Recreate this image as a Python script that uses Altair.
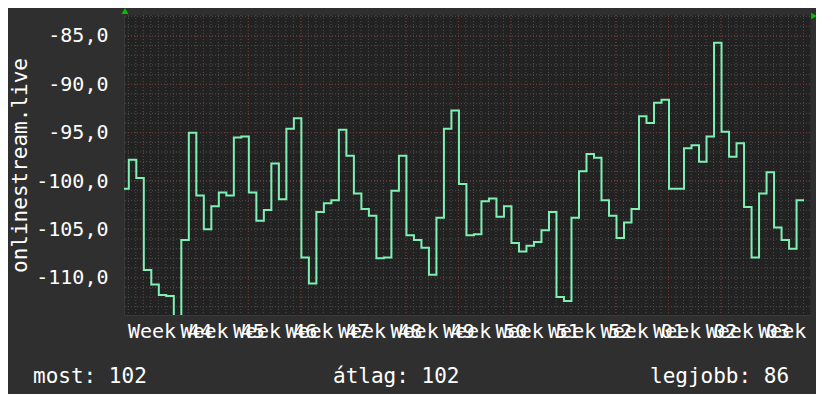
import altair as alt
import pandas as pd

# ---- data ----
# daily values, day index relative to Monday of Week 44 (d = -3 ... 87)
first_day = -3
values = [
    -100.8, -97.8, -99.7,
    -109.2, -110.7, -111.8, -111.9, -114.5, -106.1, -95.0,
    -101.5, -105.0, -102.6, -101.2, -101.5, -95.5, -95.4,
    -101.2, -104.1, -103.0, -98.2, -101.9, -94.6, -93.5,
    -107.9, -110.6, -103.2, -102.3, -102.0, -94.7, -97.4,
    -101.3, -102.9, -103.6, -108.0, -107.9, -101.0, -97.4,
    -105.6, -106.1, -106.9, -109.7, -103.8, -94.6, -92.7,
    -100.3, -105.6, -105.5, -102.1, -101.8, -103.7, -102.6,
    -106.4, -107.3, -106.7, -106.3, -105.1, -103.2, -112.0,
    -112.4, -103.8, -99.0, -97.2, -97.6, -102.0, -103.6,
    -105.9, -104.3, -102.9, -93.3, -94.0, -91.9, -91.6,
    -100.8, -100.8, -96.6, -96.3, -98.0, -95.4, -85.7,
    -94.9, -97.5, -96.1, -102.7, -107.9, -101.3, -99.1,
    -104.8, -106.1, -107.0, -102.0,
]
week_labels = ["44", "45", "46", "47", "48", "49", "50", "51", "52", "01", "02", "03", "04"]
y_tick_values = [-110, -105, -100, -95, -90, -85]
stats_labels = ["most: 102", "átlag: 102", "legjobb: 86"]

# ---- derived tables ----
offset = 0.07
days = [first_day + i + offset for i in range(len(values))]
line_df = pd.DataFrame({"day": days + [days[-1] + 1.0], "value": values + [values[-1]]})

x_domain = [-2.57, 88.86]
y_domain = [-113.86, -82.83]

minor_y = pd.DataFrame({"value": list(range(-113, -82))})
major_y = pd.DataFrame({"value": y_tick_values})
minor_x = pd.DataFrame({"day": list(range(-2, 89))})
major_x = pd.DataFrame({"day": list(range(0, 89, 7))})
week_mids = [3.5 + 7 * k for k in range(len(week_labels))]

FONT = "DejaVu Sans Mono"
xs = alt.Scale(domain=x_domain, nice=False, zero=False)
ys = alt.Scale(domain=y_domain, nice=False, zero=False)

arr = "[" + ",".join("'" + w + "'" for w in week_labels) + "]"
x_label_expr = "'Week ' + " + arr + "[round((datum.value - 3.5) / 7)]"
y_label_expr = "(datum.value < 0 ? '-' : '') + replace(format(abs(datum.value), '.1f'), '.', ',')"

x_axis = alt.Axis(
    values=week_mids, labelExpr=x_label_expr, title=None, grid=False, ticks=False,
    domain=True, domainColor="#3a3a3a", labelOverlap=False, labelBound=False, labelFlush=False,
    labelFont=FONT, labelFontSize=20, labelColor="#ffffff", labelPadding=6,
    labelBaseline="top", labelAlign="center")
y_axis = alt.Axis(
    values=y_tick_values, labelExpr=y_label_expr, grid=False, ticks=False,
    domain=True, domainColor="#3a3a3a", labelFont=FONT, labelFontSize=20,
    labelColor="#ffffff", labelPadding=16, labelBaseline="middle",
    title="onlinestream.live", titleFont=FONT, titleFontSize=21, titleFontWeight="normal",
    titleColor="#ffffff", titleAngle=270, titleX=-98, titleY=150,
    titleAlign="center", titleBaseline="alphabetic")

X = alt.X("day:Q", scale=xs, axis=x_axis)
Y = alt.Y("value:Q", scale=ys, axis=y_axis)

grid_minor_h = alt.Chart(minor_y).mark_rule(color="#4e4e4e", strokeWidth=1, strokeDash=[1, 2]).encode(y=Y)
grid_minor_v = alt.Chart(minor_x).mark_rule(color="#4e4e4e", strokeWidth=1, strokeDash=[1, 2]).encode(x=X)
grid_major_h = alt.Chart(major_y).mark_rule(color="#7a3434", strokeWidth=1, strokeDash=[1, 2]).encode(y=Y)
grid_major_v = alt.Chart(major_x).mark_rule(color="#7a3434", strokeWidth=1, strokeDash=[1, 2]).encode(x=X)

line = alt.Chart(line_df).mark_line(
    interpolate="step-after", color="#7ff0b4", strokeWidth=2, clip=True
).encode(x=X, y=Y)

one = pd.DataFrame({"a": [0]})
arrow_up = alt.Chart(one).mark_point(shape="triangle-up", filled=True, color="#00c000", size=45, opacity=1).encode(
    x=alt.value(1), y=alt.value(-4))
arrow_right = alt.Chart(one).mark_point(shape="triangle-right", filled=True, color="#00c000", size=45, opacity=1).encode(
    x=alt.value(690), y=alt.value(1))

text_x = [-91, 209, 526]
texts = []
for i, lab in enumerate(stats_labels):
    texts.append(
        alt.Chart(pd.DataFrame({"label": [lab]})).mark_text(
            align="left", baseline="alphabetic", font=FONT, fontSize=21, color="#ffffff"
        ).encode(text="label:N", x=alt.value(text_x[i]), y=alt.value(368))
    )

chart = alt.layer(
    grid_minor_h, grid_minor_v, grid_major_h, grid_major_v, line, arrow_up, arrow_right, *texts
).properties(
    width=686, height=300,
    autosize=alt.AutoSizeParams(type="none"),
    padding={"left": 116, "top": 7, "right": 6, "bottom": 79},
).configure(background="#2f2f2f").configure_view(fill="#222222", stroke="transparent")

chart.save("out.html", embed_options={"renderer": "svg", "actions": False})
